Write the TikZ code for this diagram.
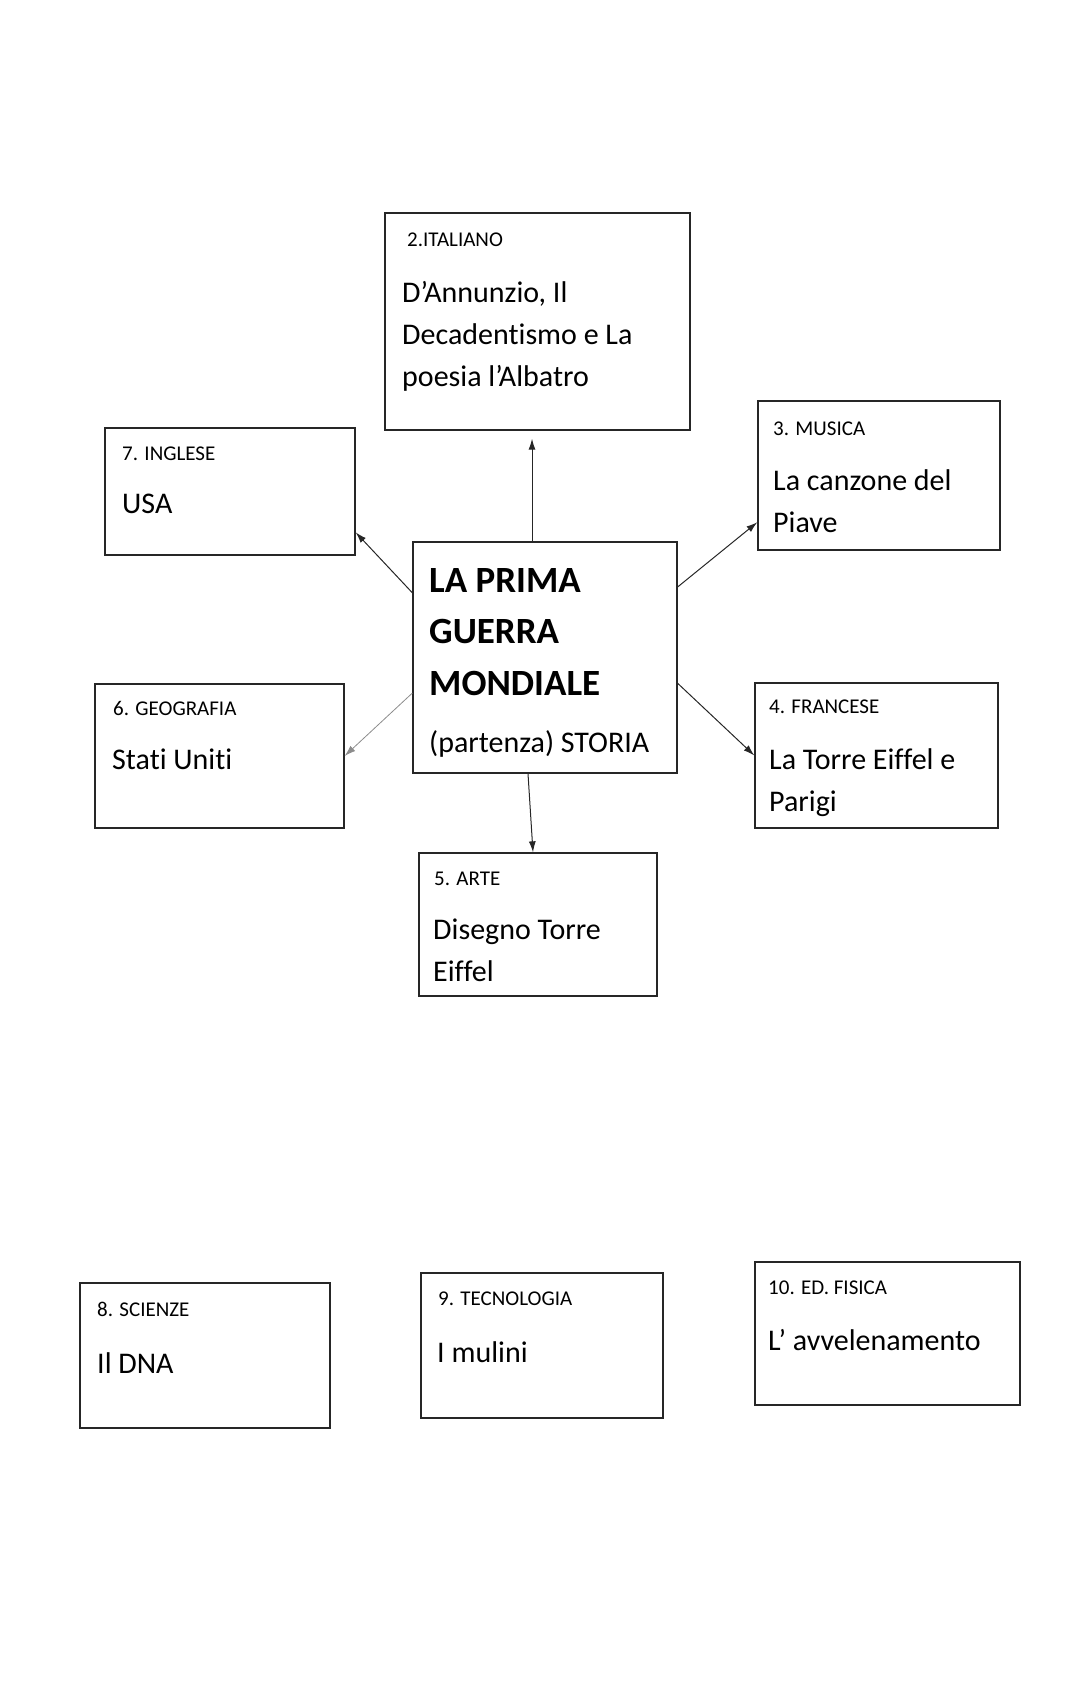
\documentclass[tikz,border=0pt]{standalone}
\usepackage{fontspec}
\setmainfont{Carlito}[Ligatures = NoCommon]
\usetikzlibrary{arrows.meta}
\tikzset{
  box/.style = {draw = black!85, line width = 1.3pt, rectangle, inner sep = 0pt},
  lab/.style = {font = \fontsize{21}{25}\selectfont, inner sep = 0pt, anchor = base west},
  txt/.style = {font = \fontsize{30}{42}\selectfont, inner sep = 0pt, anchor = base west, align = left},
  ttl/.style = {font = \bfseries\fontsize{37}{51.5}\selectfont, inner sep = 0pt, anchor = base west, align = left},
  link/.style = {-{Latex[length = 11pt, width = 7pt]}, line width = 1pt, draw = black!85}
}
\begin{document}
\begin{tikzpicture}[x = 1pt, y = -1pt]
\useasboundingbox (0,0) rectangle (1080,1681);
\foreach \name/\cx/\cy/\w/\h in {it/537.5/321.5/305/217, ing/230/491.5/250/127, mus/879/475.5/242/149, sto/545/657.5/264/231, geo/219.5/756/249/144, fra/876.5/755.5/243/145, art/538/924.5/238/143, sci/205/1355.5/250/145, tec/542/1345.5/242/145, fis/887.5/1333.5/265/143}
  \node[box, minimum width = \w, minimum height = \h] (\name) at (\cx,\cy) {};
\foreach \name/\x/\y/\lab in {it/407/246/2.ITALIANO, ing/122/460/7. INGLESE, mus/773/435/3. MUSICA, geo/113/715/6. GEOGRAFIA, fra/769/713/4. FRANCESE, art/434/885/5. ARTE, sci/97/1316/8. SCIENZE, tec/438/1305/9. TECNOLOGIA, fis/768/1294/10. ED. FISICA}
  \node[lab] (\name-lab) at (\x,\y) {\lab};
% multi-line texts sit on the baseline of their last line
\node[txt] (it-txt) at (402,386) {D’Annunzio, Il\\Decadentismo e La\\poesia l’Albatro};
\node[txt] (ing-txt) at (122,513) {USA};
\node[txt] (mus-txt) at (773,532) {La canzone del\\Piave};
\node[ttl] (sto-ttl) at (429,695) {LA PRIMA\\GUERRA\\MONDIALE};
\node[txt] (sto-txt) at (429,752) {(partenza) STORIA};
\node[txt] (geo-txt) at (112,769) {Stati Uniti};
\node[txt] (fra-txt) at (769,811) {La Torre Eiffel e\\Parigi};
\node[txt] (art-txt) at (433,981) {Disegno Torre\\Eiffel};
\node[txt] (sci-txt) at (97,1373) {Il DNA};
\node[txt] (tec-txt) at (437,1362) {I mulini};
\node[txt] (fis-txt) at (768,1350) {L’ avvelenamento};
\draw[link, shorten > = 8pt] ([xshift = -13pt]sto.north) -- ([xshift = -5.5pt]it.south);
\draw[link] (sto.154) -- (ing.-18);
\draw[link] (sto.28) -- (mus.201);
\draw[link, draw = black!45, line width = 0.8pt] (sto.195) -- (geo.east);
\draw[link] (sto.-11) -- (fra.west);
\draw[link] ([xshift = -17pt]sto.south) -- ([xshift = -5pt]art.north);
\end{tikzpicture}
\end{document}
